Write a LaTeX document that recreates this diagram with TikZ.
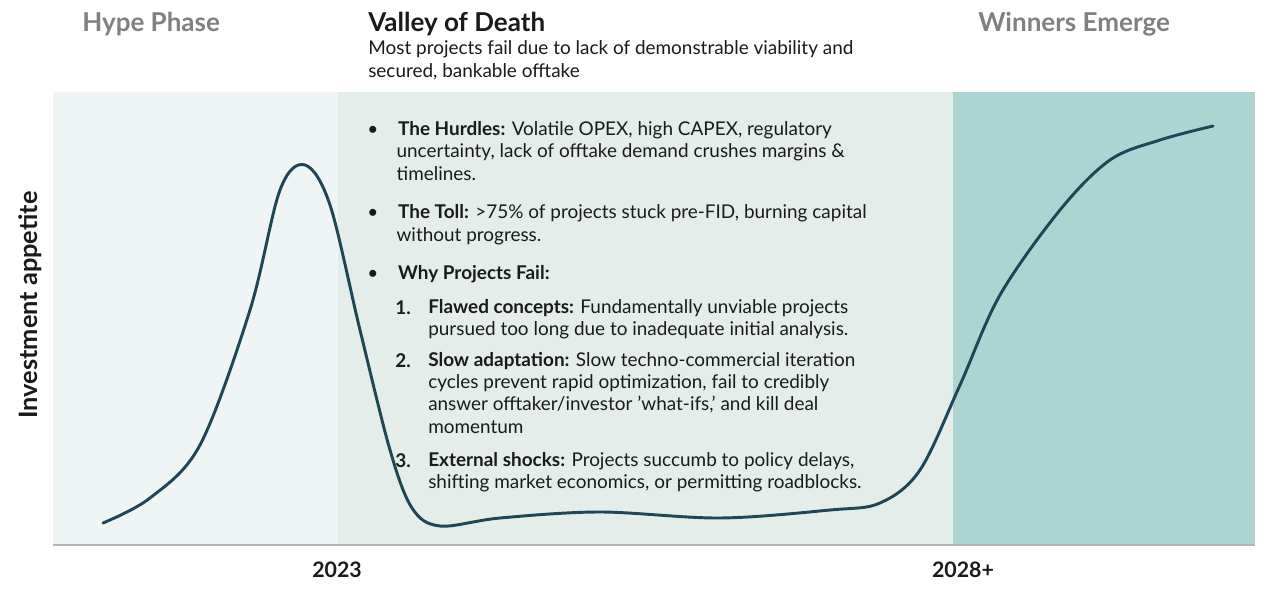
\documentclass[tikz,border=0pt]{standalone}
\usepackage{fontspec}
\setmainfont{Lato}
\definecolor{pA}{HTML}{EFF5F5}
\definecolor{pB}{HTML}{E5EDEB}
\definecolor{pC}{HTML}{ACD4D3}
\definecolor{crv}{HTML}{1E4656}
\definecolor{gr}{HTML}{808080}
\definecolor{txt}{HTML}{1A1A1A}
\begin{document}
\begin{tikzpicture}[x=0.75pt,y=-0.75pt,
  ln/.style={anchor=west,inner sep=0,font=\fontsize{14.2}{15}\selectfont,text=txt},
  ttl/.style={anchor=west,inner sep=0,font=\fontsize{19.5}{22}\selectfont\bfseries},
  yr/.style={inner sep=0,font=\fontsize{16}{18}\selectfont\bfseries,text=txt}]
\useasboundingbox (0,0) rectangle (1278,595);
\fill[white] (0,0) rectangle (1278,595);
\fill[pA] (53,92) rectangle (338,545);
\fill[pB] (338,92) rectangle (953,545);
\fill[pC] (953,92) rectangle (1255,545);
\draw[gr!60,line width=0.8pt] (53,545) -- (1255,545);
\node[ttl,text=gr] (hype) at (82,24) {Hype Phase};
\node[ttl,text=txt] (vod) at (368,24) {Valley of Death};
\node[ln] (s1) at (368,49) {Most projects fail due to lack of demonstrable viability and};
\node[ln] (s2) at (368,72) {secured, bankable offtake};
\node[ttl,text=gr] (win) at (978,24) {Winners Emerge};
\node[yr] (y1) at (337,570) {2023};
\node[yr] (y2) at (963,570) {2028+};
\node[rotate=90,inner sep=0,font=\fontsize{19}{21}\selectfont\bfseries,text=txt] (ya) at (30,305) {Investment appetite};
\draw[crv,line width=2.2pt,line cap=round] plot[smooth,tension=0.55] coordinates {
(103,523) (150,498) (200,445) (250,310) (280,190) (305,165) (330,205) (360,330) (390,450) (412,508) (440,526) (500,518) (600,512) (720,518) (830,510) (880,503) (920,470) (960,385) (1000,295) (1060,210) (1110,160) (1160,140) (1213,126)};
\foreach \y/\t [count=\i] in {
130/{\textbullet\hspace{1.05em}\textbf{The Hurdles:} Volatile OPEX, high CAPEX, regulatory},
152/{\hspace{1.55em}uncertainty, lack of offtake demand crushes margins \&},
174/{\hspace{1.55em}timelines.},
213/{\textbullet\hspace{1.05em}\textbf{The Toll:} >75\% of projects stuck pre-FID, burning capital},
236/{\hspace{1.55em}without progress.},
274/{\textbullet\hspace{1.05em}\textbf{Why Projects Fail:}}}
  \node[ln] (b\i) at (367,\y) {\t};
\foreach \y/\t [count=\i] in {
308/{\textbf{Flawed concepts:} Fundamentally unviable projects},
330/{pursued too long due to inadequate initial analysis.},
361/{\textbf{Slow adaptation:} Slow techno-commercial iteration},
383/{cycles prevent rapid optimization, fail to credibly},
405/{answer offtaker/investor 'what-ifs,' and kill deal},
427/{momentum},
461/{\textbf{External shocks:} Projects succumb to policy delays,},
483/{shifting market economics, or permitting roadblocks.}}
  \node[ln] (n\i) at (428,\y) {\t};
\node[ln] (k1) at (395,308) {\textbf{1.}};
\node[ln] (k2) at (395,361) {\textbf{2.}};
\node[ln] (k3) at (395,461) {\textbf{3.}};
\end{tikzpicture}
\end{document}
